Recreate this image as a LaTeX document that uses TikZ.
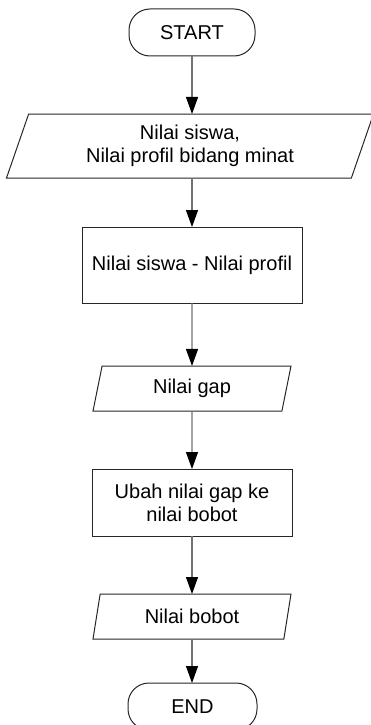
\documentclass[tikz,border=0pt]{standalone}
\usepackage{fontspec}
\setmainfont{Liberation Sans}
\usetikzlibrary{arrows.meta,shapes.geometric}
\begin{document}
\begin{tikzpicture}[x=1pt,y=-1pt,
  base/.style={draw=black!85, line width=1pt, outer sep=0pt, inner sep=0pt,
    align=center, text=black, font=\fontsize{20}{23}\selectfont},
  terminal/.style={base, rectangle, rounded corners=21pt,
    minimum width=126pt, minimum height=47pt},
  process/.style={base, rectangle},
  io/.style={base, trapezium, trapezium stretches body,
    trapezium left angle=#1, trapezium right angle=180-#1},
  arr/.style={draw=black!55, line width=1.2pt,
    -{Triangle[length=17pt,width=12pt,color=black]}}]
  % page frame
  \path[use as bounding box] (0,0) rectangle (371,725);

  % flowchart steps
  \node[terminal] (start) at (192,32.5) {START};
  \node[io=62, minimum width=367pt, minimum height=64pt] (input) at (190,146)
    {Nilai siswa,\\Nilai profil bidang minat};
  \node[process, minimum width=220pt, minimum height=76pt] (diff) at (192,265)
    {Nilai siswa - Nilai profil};
  \node[io=64, minimum width=198pt, minimum height=45pt] (gap) at (192,388.5)
    {Nilai gap};
  \node[process, minimum width=200pt, minimum height=67pt] (conv) at (192,502.5)
    {Ubah nilai gap ke\\nilai bobot};
  \node[io=64, minimum width=198pt, minimum height=45pt] (bobot) at (192,616.5)
    {Nilai bobot};
  \node[terminal, minimum width=129pt] (end) at (192.5,706.5) {END};

  % connectors
  \draw[arr] (start.south) -- (start.south |- input.north);
  \draw[arr] (input.south -| diff.north) -- (diff.north);
  \draw[arr] (diff) -- (gap);
  \draw[arr] (gap) -- (conv);
  \draw[arr] (conv) -- (bobot);
  \draw[arr] (bobot.south) -- (bobot.south |- end.north);
\end{tikzpicture}
\end{document}
